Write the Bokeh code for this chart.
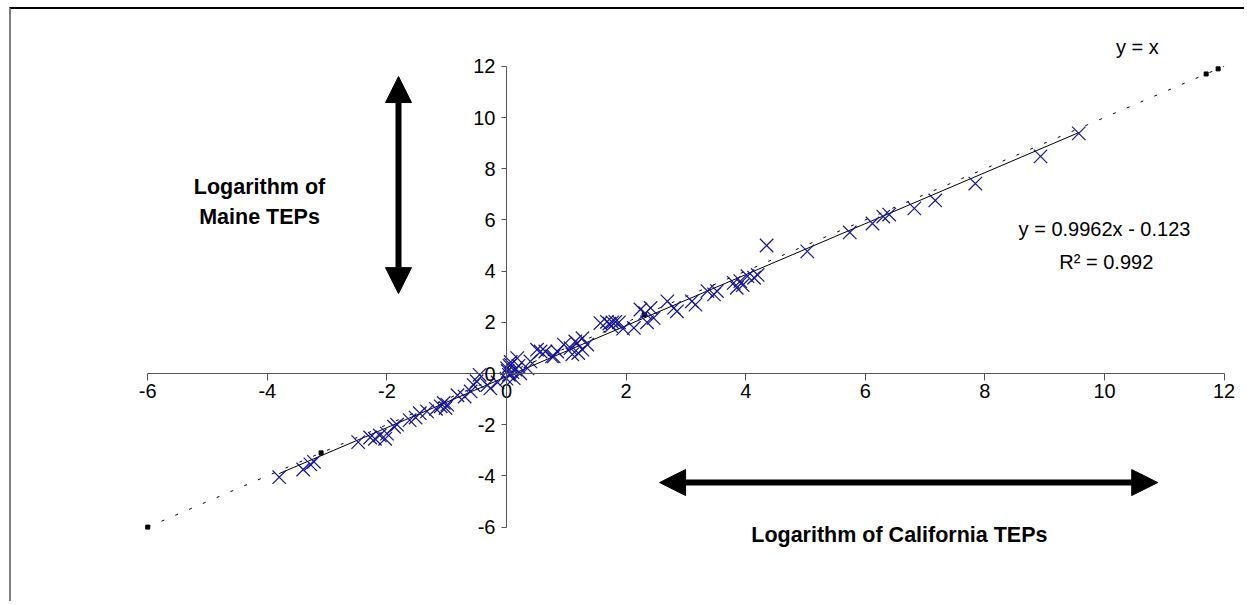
from bokeh.plotting import figure
from bokeh.models import Range1d, FixedTicker, Label, Arrow, NormalHead
from bokeh.embed import file_html
from bokeh.resources import INLINE

# ---- data ----
california = [-3.80, -3.40, -3.28, -3.22,
              -2.48, -2.28, -2.20, -2.12, -2.03, -2.00,
              -1.88, -1.83, -1.62, -1.52, -1.45,
              -1.33, -1.18, -1.10, -1.05, -0.99, -1.02,
              -0.82, -0.70, -0.60, -0.55, -0.50, -0.45,
              -0.32, -0.27, -0.15,
              0.01, 0.07, 0.18, 0.04, 0.12, 0.35, 0.07, 0.15, 0.23, 0.00, 0.10, 0.05, 0.20, 0.02,
              0.40, 0.51, 0.57, 0.65, 0.76, 0.79, 0.85, 0.96, 1.07, 1.18, 1.27, 1.35, 1.27, 1.15, 1.20, 1.10,
              1.57, 1.68, 1.72, 1.77, 1.82, 1.88, 1.75, 2.13, 1.95,
              2.24, 2.32, 2.41, 2.46, 2.35, 2.69, 2.80, 2.85, 3.10, 3.16, 3.36, 3.47, 3.52,
              3.80, 3.91, 4.03, 4.14, 3.85, 3.95, 4.20,
              4.35, 5.03, 5.74, 6.12, 6.30, 6.40, 6.82, 7.17, 7.84, 8.93, 9.57]
maine = [-4.05, -3.75, -3.55, -3.45,
         -2.68, -2.50, -2.55, -2.42, -2.55, -2.35,
         -2.08, -2.00, -1.82, -1.72, -1.55,
         -1.48, -1.38, -1.28, -1.15, -1.22, -1.35,
         -0.85, -0.90, -0.70, -0.45, -0.30, -0.05,
         -0.45, -0.58, -0.35,
         0.20, 0.45, 0.60, -0.05, -0.18, 0.20, 0.34, 0.15, 0.01, -0.20, 0.05, 0.30, 0.30, 0.10,
         0.47, 0.93, 0.86, 0.86, 0.67, 0.67, 0.86, 1.13, 0.99, 1.19, 0.93, 1.13, 1.38, 1.25, 0.80, 0.75,
         1.97, 2.02, 1.95, 2.00, 2.02, 2.00, 1.85, 1.78, 1.75,
         2.50, 2.36, 2.56, 2.17, 2.00, 2.82, 2.56, 2.43, 2.82, 2.69, 3.22, 3.09, 3.22,
         3.54, 3.61, 3.80, 3.74, 3.35, 3.45, 3.85,
         5.00, 4.77, 5.51, 5.86, 6.13, 6.21, 6.45, 6.76, 7.42, 8.48, 9.38]

trend_slope = 0.9962
trend_intercept = -0.123
identity_range = [-6, 12]
identity_marks = [-6.0, -3.1, 2.3, 11.7, 11.9]
ticks = [-6, -4, -2, 0, 2, 4, 6, 8, 10, 12]

equation_text = "y = 0.9962x - 0.123"
r2_text = "R\u00b2 = 0.992"
identity_text = "y = x"
xlabel_text = "Logarithm of California TEPs"
ylabel_lines = ["Logarithm of", "Maine TEPs"]

FONT = "Liberation Sans"

# canvas placement (page pixels): margin + border
ML, MT, B = 9, 7, 2
W, H = 1235, 594
OX, OY = 506 - (ML + B), 373 - (MT + B)   # canvas pixel of data origin
SX, SY = 59.8, 25.6                        # pixels per data unit

p = figure(width=W, height=H, output_backend="svg", toolbar_location=None,
           x_range=Range1d(-OX / SX, (W - OX) / SX),
           y_range=Range1d(-(H - OY) / SY, OY / SY),
           min_border=0, min_border_left=0, min_border_right=0,
           min_border_top=0, min_border_bottom=0)
p.styles = {"border-top": f"{B}px solid #000000", "border-left": f"{B}px solid #808080",
            "margin-left": f"{ML}px", "margin-top": f"{MT}px"}
p.outline_line_color = None
p.grid.visible = False
p.background_fill_color = "white"
p.border_fill_color = "white"

for ax in (p.xaxis[0], p.yaxis[0]):
    ax.fixed_location = 0
    ax.ticker = FixedTicker(ticks=ticks)
    ax.major_label_overrides = {t: str(t) for t in ticks}
    ax.bounds = (ticks[0], ticks[-1])
    ax.axis_line_color = "#555555"
    ax.axis_line_width = 1
    ax.major_tick_line_color = "#555555"
    ax.major_tick_in = 0
    ax.minor_tick_line_color = None
    ax.major_label_text_font = FONT
    ax.major_label_text_font_size = "20px"
    ax.major_label_text_color = "black"
p.xaxis[0].major_tick_out = 7
p.xaxis[0].major_label_standoff = 3
p.yaxis[0].major_tick_out = 5
p.yaxis[0].major_label_standoff = 6

# identity line y = x (sparse dashes) and its small markers
p.line(identity_range, identity_range, line_color="black", line_width=1, line_dash="3 12")
p.scatter(identity_marks, identity_marks, marker="square", size=4, fill_color="black",
          line_color="black")

# regression trend line over the data range
x0, x1 = min(california), max(california)
p.line([x0, x1], [trend_slope * x0 + trend_intercept, trend_slope * x1 + trend_intercept],
       line_color="black", line_width=1)

# data points
p.scatter(california, maine, marker="x", size=19, line_color="#14149c", line_width=1.2)

# annotations
def lab(x, y, text, size, bold=False):
    return Label(x=x, y=y, text=text, text_font=FONT, text_font_size=size,
                 text_font_style="bold" if bold else "normal", text_color="black",
                 text_align="center", text_baseline="middle")

p.add_layout(lab(10.55, 12.77, identity_text, "20px"))
p.add_layout(lab(10.0, 5.66, equation_text, "20px"))
p.add_layout(lab(10.03, 4.34, r2_text, "20px"))
p.add_layout(lab(6.57, -6.29, xlabel_text, "21.5px", True))
p.add_layout(lab(-4.13, 7.30, ylabel_lines[0], "21.5px", True))
p.add_layout(lab(-4.13, 6.13, ylabel_lines[1], "21.5px", True))

# double-headed arrows
def head():
    return NormalHead(size=26, fill_color="black", line_color="black")

p.add_layout(Arrow(x_start=-1.806, y_start=3.12, x_end=-1.806, y_end=11.6,
                   start=head(), end=head(), line_width=6, line_color="black"))
p.add_layout(Arrow(x_start=2.56, y_start=-4.26, x_end=10.89, y_end=-4.26,
                   start=head(), end=head(), line_width=6, line_color="black"))

open("out.html", "w").write(file_html(p, INLINE))
